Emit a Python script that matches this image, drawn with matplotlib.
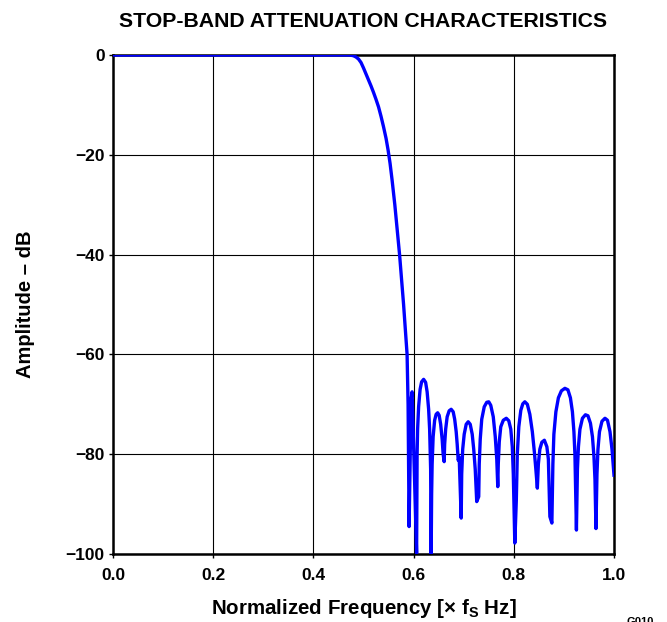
import matplotlib
matplotlib.use("Agg")
import matplotlib.pyplot as plt

# --- Données ---
freq = [
    0.0, 0.46, 0.470, 0.475, 0.480, 0.485, 0.490, 0.495, 0.500, 0.505, 0.510,
    0.515, 0.520, 0.525, 0.530, 0.535, 0.540, 0.545, 0.549, 0.553, 0.557,
    0.5625, 0.572, 0.580, 0.587, 0.589, 0.591,
    0.595, 0.597, 0.606,
    0.607, 0.608, 0.610, 0.613, 0.616, 0.620, 0.624, 0.627, 0.630, 0.632, 0.634, 0.635,
    0.636, 0.637, 0.639, 0.642, 0.645, 0.648, 0.651, 0.654, 0.657, 0.659, 0.661,
    0.662, 0.664, 0.667, 0.671, 0.675, 0.679, 0.682, 0.685, 0.687, 0.689,
    0.691, 0.695,
    0.696, 0.698, 0.701, 0.705, 0.709, 0.713, 0.717, 0.720, 0.723, 0.726,
    0.730,
    0.731, 0.733, 0.736, 0.741, 0.746, 0.750, 0.754, 0.759, 0.763, 0.766, 0.768,
    0.769, 0.771, 0.774, 0.779, 0.785, 0.790, 0.794, 0.797, 0.799, 0.802,
    0.805, 0.807, 0.810, 0.814, 0.818, 0.822, 0.827, 0.832, 0.837, 0.841, 0.844, 0.847,
    0.849, 0.852, 0.856, 0.861, 0.866, 0.869, 0.872, 0.876,
    0.878, 0.880, 0.884, 0.889, 0.895, 0.902, 0.908, 0.913, 0.917, 0.920, 0.922, 0.925,
    0.927, 0.929, 0.932, 0.937, 0.943, 0.948, 0.953, 0.957, 0.960, 0.962, 0.964,
    0.966, 0.968, 0.971, 0.976, 0.982, 0.987, 0.992, 0.996, 1.0,
]
amp_db = [
    0.0, 0.0, 0.0, -0.05, -0.15, -0.4, -0.8, -1.5, -2.6, -3.8, -5.0,
    -6.2, -7.5, -8.9, -10.4, -12.3, -14.4, -16.7, -19.0, -21.7, -25.0,
    -30.0, -40.0, -50.0, -60.0, -70.0, -94.5,
    -69.0, -67.5, -99.8,
    -80.0, -75.0, -70.5, -67.0, -65.5, -65.0, -65.6, -67.5, -71.0, -75.0, -83.0, -101.0,
    -88.0, -82.0, -76.5, -73.2, -72.0, -71.7, -72.2, -74.0, -77.0, -80.0, -81.5,
    -78.0, -75.0, -72.5, -71.3, -71.0, -71.5, -73.0, -75.5, -78.0, -81.2,
    -80.6, -92.8,
    -84.0, -79.0, -76.0, -74.0, -73.5, -74.0, -76.0, -79.0, -83.0, -89.5,
    -88.5,
    -82.0, -77.0, -73.0, -70.5, -69.6, -69.5, -70.2, -72.5, -76.5, -81.0, -86.5,
    -82.0, -77.5, -74.5, -73.2, -72.8, -73.3, -75.0, -78.5, -84.0, -97.8,
    -89.3, -80.0, -74.5, -71.2, -69.9, -69.5, -70.0, -72.0, -75.5, -79.5, -83.0, -86.8,
    -82.0, -79.0, -77.6, -77.2, -78.5, -81.0, -92.5, -93.8,
    -82.0, -76.0, -71.5, -68.7, -67.3, -66.8, -67.1, -68.7, -71.5, -75.5, -80.0, -95.2,
    -83.0, -78.5, -75.0, -72.8, -72.1, -72.3, -73.8, -76.5, -80.5, -85.0, -94.9,
    -84.0, -79.0, -75.5, -73.4, -72.8, -73.2, -75.5, -79.0, -84.2,
]

x_ticks = [0.0, 0.2, 0.4, 0.6, 0.8, 1.0]
x_labels = ["0.0", "0.2", "0.4", "0.6", "0.8", "1.0"]
y_ticks = [0, -20, -40, -60, -80, -100]

plt.rcParams["font.family"] = ["Liberation Sans", "DejaVu Sans"]
plt.rcParams["font.weight"] = "bold"
plt.rcParams["mathtext.fontset"] = "custom"
plt.rcParams["mathtext.rm"] = "Liberation Sans:bold"
plt.rcParams["mathtext.bf"] = "Liberation Sans:bold"

fig = plt.figure(figsize=(6.67, 6.22), dpi=100)
ax = fig.add_axes([113 / 667, 1 - 554 / 622, 501 / 667, 499 / 622])

ax.plot(freq, amp_db, color="#0000ff", lw=2.4, solid_joinstyle="round", zorder=3)

ax.set_xlim(0, 1.0)
ax.set_ylim(-100, 0)
ax.set_xticks(x_ticks)
ax.set_xticklabels(x_labels)
ax.set_yticks(y_ticks)
ax.grid(True, color="black", lw=0.8)
ax.tick_params(direction="out", length=3, width=1, labelsize=12.5)
ax.tick_params(axis="x", pad=7)
ax.tick_params(axis="y", pad=3)
for lab in ax.get_xticklabels() + ax.get_yticklabels():
    lab.set_fontweight("bold")
for sp in ax.spines.values():
    sp.set_linewidth(1.8)

ax.set_title("STOP-BAND ATTENUATION CHARACTERISTICS", fontsize=15.3,
             fontweight="bold", pad=20)
ax.set_ylabel("Amplitude – dB", fontsize=14.5, fontweight="bold", labelpad=22)
ax.set_xlabel(r"Normalized Frequency [$\times$ f$_\mathrm{S}$ Hz]", fontsize=14.8,
              fontweight="bold", labelpad=10)

fig.text(0.94, 0.008, "G010", fontsize=8, va="top", ha="left")

fig.savefig("out.png", dpi=100)
